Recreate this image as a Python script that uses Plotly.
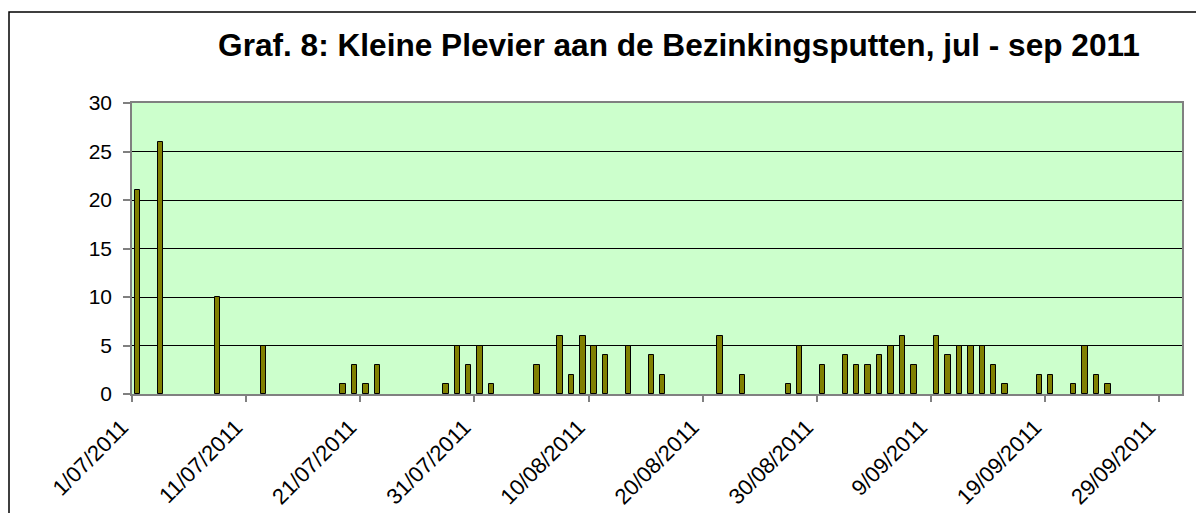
import plotly.graph_objects as go

dates = ["2011-07-01", "2011-07-03", "2011-07-08", "2011-07-12", "2011-07-19", "2011-07-20",
         "2011-07-21", "2011-07-22", "2011-07-28", "2011-07-29", "2011-07-30", "2011-07-31",
         "2011-08-01", "2011-08-05", "2011-08-07", "2011-08-08", "2011-08-09", "2011-08-10",
         "2011-08-11", "2011-08-13", "2011-08-15", "2011-08-16", "2011-08-21", "2011-08-23",
         "2011-08-27", "2011-08-28", "2011-08-30", "2011-09-01", "2011-09-02", "2011-09-03",
         "2011-09-04", "2011-09-05", "2011-09-06", "2011-09-07", "2011-09-09", "2011-09-10",
         "2011-09-11", "2011-09-12", "2011-09-13", "2011-09-14", "2011-09-15", "2011-09-18",
         "2011-09-19", "2011-09-21", "2011-09-22", "2011-09-23", "2011-09-24"]
counts = [21, 26, 10, 5, 1, 3, 1, 3, 1, 5, 3, 5, 1, 3, 6, 2, 6, 5, 4, 5, 4, 2, 6, 2,
          1, 5, 3, 4, 3, 3, 4, 5, 6, 3, 6, 4, 5, 5, 5, 3, 1, 2, 2, 1, 5, 2, 1]
title_text = "Graf. 8: Kleine Plevier aan de Bezinkingsputten, jul - sep 2011"
y_ticks = [0, 5, 10, 15, 20, 25, 30]

DAY = 86400000
FONT = "Arial, Liberation Sans, sans-serif"

fig = go.Figure()
fig.add_trace(go.Bar(
    x=dates, y=counts,
    xperiod=DAY, xperiodalignment="middle",
    width=0.48 * DAY,
    marker=dict(color="#808000", line=dict(color="#000000", width=1)),
    hoverinfo="x+y",
))

W, H = 1196, 513
ml, mr, mt, mb = 132, 14, 103, 119
pw, ph = W - ml - mr, H - mt - mb

fig.update_layout(
    width=W, height=H,
    margin=dict(l=ml, r=mr, t=mt, b=mb, autoexpand=False),
    paper_bgcolor="white",
    plot_bgcolor="#CCFFCC",
    showlegend=False,
    bargap=0,
    font=dict(family=FONT, color="black", size=21),
    title=dict(text="<b>" + title_text + "</b>",
               font=dict(family=FONT, size=31.6, color="black"),
               x=679 / W, xanchor="center", xref="container",
               y=1 - 45 / H, yanchor="middle", yref="container"),
    xaxis=dict(
        type="date",
        range=["2011-07-01", "2011-10-01"],
        tick0="2011-07-01", dtick=10 * DAY,
        tickformat="%-d/%m/%Y",
        tickangle=-45,
        ticks="outside", ticklen=6, tickcolor="#808080", tickwidth=1.5,
        showgrid=False,
        showline=True, linecolor="#808080", linewidth=1.5, mirror=True,
        tickfont=dict(family=FONT, size=22, color="black"),
        ticklabelstandoff=4,
        ticklabelshift=-10,
        fixedrange=True,
        automargin=False,
    ),
    yaxis=dict(
        range=[0, 30],
        tickvals=y_ticks,
        ticks="outside", ticklen=7, tickcolor="#808080", tickwidth=1.5,
        showgrid=True, gridcolor="#000000", gridwidth=1,
        zeroline=False,
        showline=True, linecolor="#808080", linewidth=1.5, mirror=True,
        tickfont=dict(family=FONT, size=21, color="black"),
        ticklabelstandoff=7,
        fixedrange=True,
        automargin=False,
    ),
)

# outer chart border (extends past right and bottom edges of the picture)
fig.add_shape(type="rect", xref="paper", yref="paper",
              x0=(9 - ml) / pw, x1=(W + 20 - ml) / pw,
              y0=-(H + 20 - (mt + ph)) / ph, y1=(mt + ph - 12) / ph,
              line=dict(color="black", width=1.5), fillcolor="rgba(0,0,0,0)",
              layer="below")

fig.write_html("out.html", config={"displayModeBar": False},
               post_script="document.body.style.margin='0';document.body.style.overflow='hidden';")
